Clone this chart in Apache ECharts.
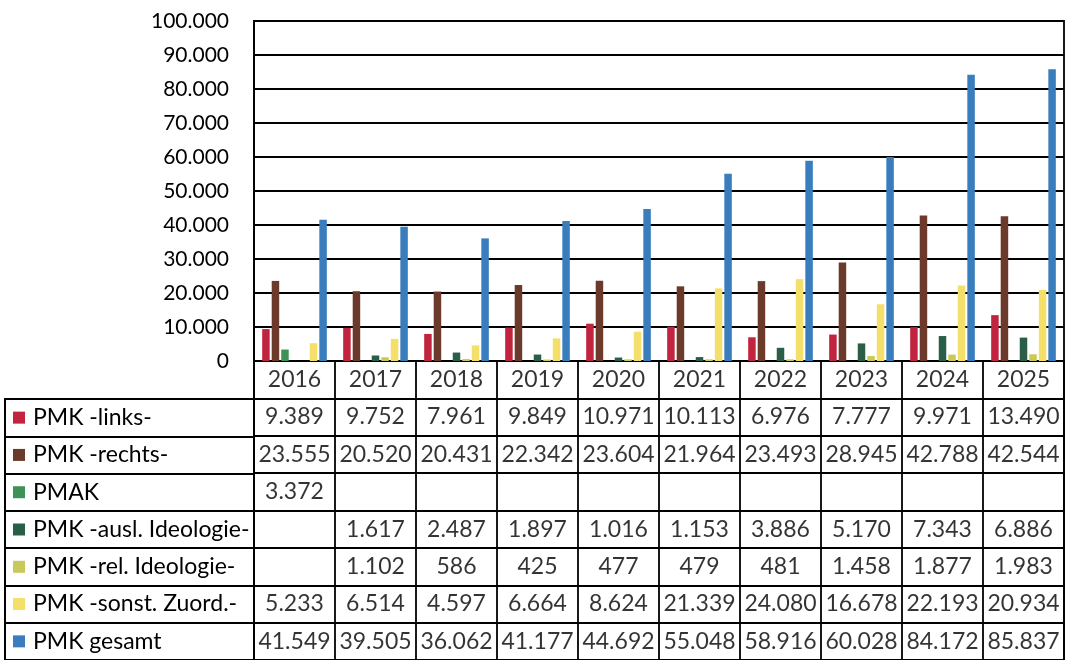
<!DOCTYPE html>
<html>
<head>
<meta charset="utf-8">
<script src="https://cdn.jsdelivr.net/npm/echarts@6/dist/echarts.min.js"></script>
<style>
	html, body {margin: 0; padding: 0; background: #fff;}
	#main {width: 1080px; height: 660px;}
</style>
</head>
<body>
<div id="main"></div>
<script>
var years = ['2016', '2017', '2018', '2019', '2020', '2021', '2022', '2023', '2024', '2025']
var seriesNames = ['PMK -links-', 'PMK -rechts-', 'PMAK', 'PMK -ausl. Ideologie-', 'PMK -rel. Ideologie-', 'PMK -sonst. Zuord.-', 'PMK gesamt']
var links = [9389, 9752, 7961, 9849, 10971, 10113, 6976, 7777, 9971, 13490]
var rechts = [23555, 20520, 20431, 22342, 23604, 21964, 23493, 28945, 42788, 42544]
var pmak = [3372, null, null, null, null, null, null, null, null, null]
var auslIdeologie = [null, 1617, 2487, 1897, 1016, 1153, 3886, 5170, 7343, 6886]
var relIdeologie = [null, 1102, 586, 425, 477, 479, 481, 1458, 1877, 1983]
var sonstZuord = [5233, 6514, 4597, 6664, 8624, 21339, 24080, 16678, 22193, 20934]
var gesamt = [41549, 39505, 36062, 41177, 44692, 55048, 58916, 60028, 84172, 85837]
var yTicks = {min: 0, max: 100000, interval: 10000}

var colors = ['#c0243f', '#6b3a2a', '#3f9257', '#2a5e47', '#c9c95b', '#f4df6b', '#3a7dbd']
var allData = [links, rechts, pmak, auslIdeologie, relIdeologie, sonstZuord, gesamt]
var font = 'Lato'
var lineW = 1.8

// 1.234 statt 1,234
function de_num(v){
	var s = String(Math.round(v))
	return s.replace(/\B(?=(\d{3})+(?!\d))/g, '.')
}

var chart = echarts.init(document.getElementById('main'))

var barSeries = []
for(var i=0;i<seriesNames.length;i++){
	barSeries.push({
		name: seriesNames[i],
		type: 'bar',
		xAxisIndex: 0,
		yAxisIndex: 0,
		barWidth: 7.5,
		barGap: '27%',
		itemStyle: {color: colors[i]},
		data: allData[i]
	})
}

// Datentabelle unter dem Diagramm
var cellData = []
for(var k=0;k<years.length;k++){
	cellData.push({value: [years[k], '', years[k]]})
}
for(var r=0;r<seriesNames.length;r++){
	for(var k=0;k<years.length;k++){
		if(allData[r][k] !== null){
			cellData.push({value: [years[k], seriesNames[r], de_num(allData[r][k])]})
		}
	}
}

var rich = {t: {fontFamily: font, fontSize: 23, color: '#000', padding: [0, 0, 0, 8]}}
for(var i=0;i<colors.length;i++){
	rich['c'+i] = {backgroundColor: colors[i], width: 12, height: 12}
}

var option = {
	backgroundColor: '#fff',
	animation: false,
	textStyle: {fontFamily: font},
	grid: [
		{left: 254, top: 21, width: 810, height: 340, show: true, borderColor: '#000', borderWidth: lineW},
		{left: 254, top: 361, width: 810, height: 304, show: true, borderColor: '#000', borderWidth: lineW},
		{left: 5, top: 399, width: 249, height: 266, show: true, borderColor: '#000', borderWidth: lineW}
	],
	xAxis: [
		{
			type: 'category',
			gridIndex: 0,
			data: years,
			axisLine: {lineStyle: {color: '#000', width: lineW}},
			axisTick: {show: false},
			axisLabel: {show: false}
		},
		{
			type: 'category',
			gridIndex: 1,
			data: years,
			axisLine: {show: false},
			axisTick: {show: false},
			axisLabel: {show: false},
			splitLine: {show: true, lineStyle: {color: '#000', width: lineW}}
		},
		{
			type: 'value',
			gridIndex: 2,
			min: 0,
			max: 1,
			show: false
		}
	],
	yAxis: [
		{
			type: 'value',
			gridIndex: 0,
			min: yTicks.min,
			max: yTicks.max,
			interval: yTicks.interval,
			axisLine: {show: true, lineStyle: {color: '#000', width: lineW}},
			axisTick: {show: false},
			axisLabel: {
				color: '#000',
				fontFamily: font,
				fontSize: 21,
				margin: 25,
				formatter: function(v){ return de_num(v) }
			},
			splitLine: {lineStyle: {color: '#000', width: lineW}}
		},
		{
			type: 'category',
			gridIndex: 1,
			inverse: true,
			data: [''].concat(seriesNames),
			axisLine: {show: false},
			axisTick: {show: false},
			axisLabel: {show: false},
			splitLine: {show: true, lineStyle: {color: '#000', width: lineW}}
		},
		{
			type: 'category',
			gridIndex: 2,
			inverse: true,
			data: seriesNames,
			axisLine: {show: true, lineStyle: {color: '#000', width: lineW}},
			axisTick: {show: false},
			axisLabel: {
				inside: true,
				align: 'left',
				margin: 8,
				formatter: function(v, idx){ return '{c'+idx+'|}{t|'+v+'}' },
				rich: rich
			},
			splitLine: {show: true, lineStyle: {color: '#000', width: lineW}}
		}
	],
	series: barSeries.concat([
		{
			name: 'tabelle',
			type: 'scatter',
			xAxisIndex: 1,
			yAxisIndex: 1,
			symbolSize: 1,
			silent: true,
			itemStyle: {color: 'rgba(0,0,0,0)'},
			label: {
				show: true,
				position: 'inside',
				color: '#000',
				fontFamily: font,
				fontSize: 23,
				formatter: function(p){ return p.value[2] }
			},
			data: cellData
		}
	])
}
chart.setOption(option)
</script>
</body>
</html>
